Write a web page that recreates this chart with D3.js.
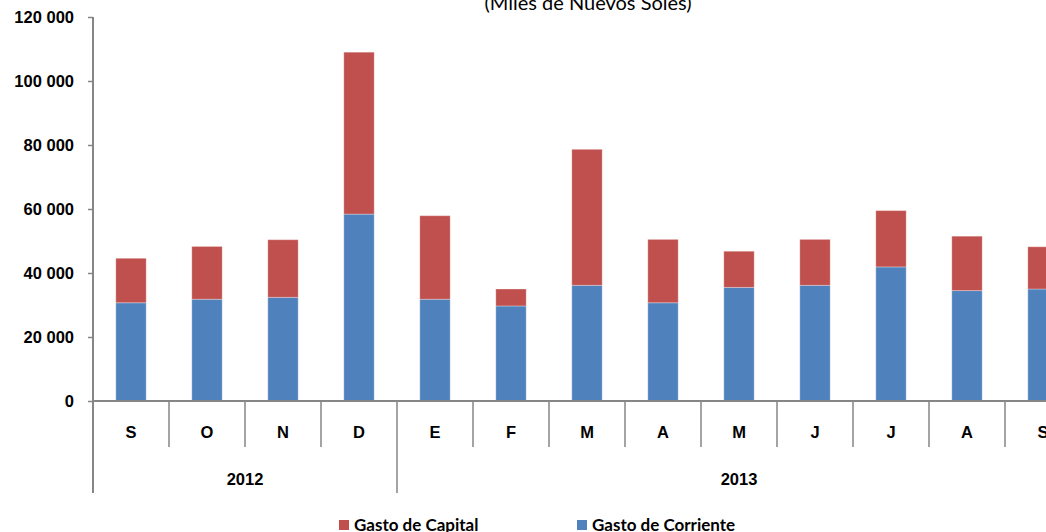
<!DOCTYPE html>
<html>
<head>
<meta charset="utf-8">
<script src="https://cdn.jsdelivr.net/npm/d3@7"></script>
<style>
  body { margin: 0; background: #fff; }
  svg { display: block; }
</style>
</head>
<body>
<svg width="1046" height="532"></svg>
<script>
// values (miles de nuevos soles)
const months = ['S', 'O', 'N', 'D', 'E', 'F', 'M', 'A', 'M', 'J', 'J', 'A', 'S'];
const years = ['2012', '2012', '2012', '2012', '2013', '2013', '2013', '2013', '2013', '2013', '2013', '2013', '2013'];
const gastoCorriente = [30700, 31800, 32400, 58400, 31800, 29700, 36150, 30700, 35500, 36150, 41900, 34500, 35000];
const gastoCapital = [13900, 16500, 18000, 50600, 26100, 5300, 42500, 19800, 11300, 14350, 17600, 17000, 13200];
const yTicks = [0, 20000, 40000, 60000, 80000, 100000, 120000];
const seriesNames = ['Gasto de Corriente', 'Gasto de Capital'];
const colors = {'Gasto de Corriente': '#4F81BD', 'Gasto de Capital': '#C0504D'};

const svg = d3.select('svg');
const axisColor = '#868686';
const labelFont = '"Liberation Sans", Arial, sans-serif';
const calibriLike = 'Lato, "Open Sans", sans-serif';

// the plot runs past the right edge of the window, as in the picture
const x0 = 93, x1 = 1081;
const yTop = 17, yBase = 401;

const data = months.map((m, i) => ({
  idx: i, month: m, year: years[i],
  'Gasto de Corriente': gastoCorriente[i],
  'Gasto de Capital': gastoCapital[i]
}));

const xScale = d3.scaleBand()
  .domain(data.map(d => d.idx))
  .range([x0, x1])
  .padding(0);

const yScale = d3.scaleLinear()
  .domain([0, 120000])
  .range([yBase, yTop]);

const stacked = d3.stack().keys(seriesNames)(data);
const barW = xScale.bandwidth() * 0.4;

// bars
svg.append('g').selectAll('g').data(stacked)
  .enter().append('g')
    .attr('fill', s => colors[s.key])
  .selectAll('rect').data(s => s)
  .enter().append('rect')
    .attr('x', d => xScale(d.data.idx) + (xScale.bandwidth() - barW) / 2)
    .attr('y', d => yScale(d[1]))
    .attr('width', barW)
    .attr('height', d => yScale(d[0]) - yScale(d[1]))
    .attr('stroke', '#fff')
    .attr('stroke-opacity', 0.3)
    .attr('stroke-width', 1);

// y axis
const yAxis = svg.append('g')
  .attr('transform', `translate(${x0},0)`)
  .call(d3.axisLeft(yScale).tickValues(yTicks).tickSize(5).tickPadding(14)
    .tickFormat(d => d3.format(',')(d).replace(/,/g, ' ')));
yAxis.select('.domain').remove();
yAxis.selectAll('line').attr('stroke', axisColor).attr('stroke-width', 1.5);
yAxis.selectAll('text')
  .attr('font-family', labelFont)
  .attr('font-weight', 'bold')
  .attr('font-size', 16.5)
  .attr('fill', '#000');

svg.append('line')
  .attr('x1', x0).attr('x2', x0)
  .attr('y1', yTop).attr('y2', 493)
  .attr('stroke', axisColor).attr('stroke-width', 2);

// category axis line
svg.append('line')
  .attr('x1', x0).attr('x2', x1)
  .attr('y1', yBase).attr('y2', yBase)
  .attr('stroke', axisColor).attr('stroke-width', 2);

// separators between months, longer ones between years
const bounds = d3.range(1, months.length + 1);
svg.append('g').selectAll('line').data(bounds)
  .enter().append('line')
    .attr('x1', i => x0 + i * xScale.step())
    .attr('x2', i => x0 + i * xScale.step())
    .attr('y1', yBase)
    .attr('y2', i => (i < months.length && years[i] !== years[i - 1]) ? 493 : 447)
    .attr('stroke', axisColor).attr('stroke-width', 1.5);

// month labels
svg.append('g').selectAll('text').data(data)
  .enter().append('text')
    .attr('x', d => xScale(d.idx) + xScale.bandwidth() / 2)
    .attr('y', 438)
    .attr('text-anchor', 'middle')
    .attr('font-family', labelFont)
    .attr('font-weight', 'bold')
    .attr('font-size', 16.5)
    .text(d => d.month);

// year labels centred over their months
const yearGroups = d3.groups(data, d => d.year);
svg.append('g').selectAll('text').data(yearGroups)
  .enter().append('text')
    .attr('x', g => {
      const a = xScale(g[1][0].idx);
      const b = xScale(g[1][g[1].length - 1].idx) + xScale.bandwidth();
      return (a + b) / 2;
    })
    .attr('y', 485)
    .attr('text-anchor', 'middle')
    .attr('font-family', labelFont)
    .attr('font-weight', 'bold')
    .attr('font-size', 16.5)
    .text(g => g[0]);

// title (cut by the top edge)
svg.append('text')
  .attr('x', 588)
  .attr('y', 10)
  .attr('text-anchor', 'middle')
  .attr('font-family', calibriLike)
  .attr('font-size', 20)
  .attr('fill', '#000')
  .text('(Miles de Nuevos Soles)');

// legend
const legendItems = [
  {name: 'Gasto de Capital', x: 339},
  {name: 'Gasto de Corriente', x: 577}
];
const lg = svg.append('g').selectAll('g').data(legendItems)
  .enter().append('g')
    .attr('transform', d => `translate(${d.x},520)`);
lg.append('rect')
  .attr('width', 10).attr('height', 10)
  .attr('fill', d => colors[d.name]);
lg.append('text')
  .attr('x', 15).attr('y', 11)
  .attr('font-family', calibriLike)
  .attr('font-weight', 'bold')
  .attr('font-size', 17)
  .text(d => d.name);
</script>
</body>
</html>
